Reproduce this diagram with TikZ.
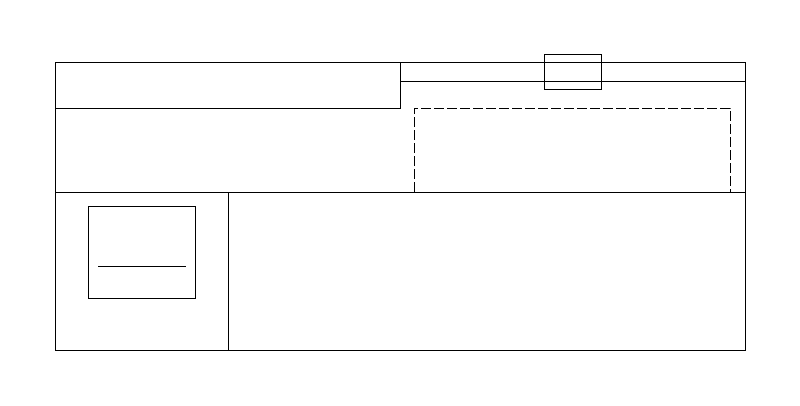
\documentclass[tikz,border=0pt]{standalone}
\begin{document}
\begin{tikzpicture}[x=1pt,y=-1pt,line width=1pt,
  frame/.style={draw=black},
  dashframe/.style={draw=black,dash pattern=on 10pt off 3pt}]
\useasboundingbox (0,0) rectangle (800,405);
% outer frame
\draw[frame] (55,62) rectangle (745,350);
\coordinate (midL) at (55,192);
\coordinate (midR) at (745,192);
\draw[frame] (midL) -- (midR);
% top-left box
\draw[frame] (55,108) -- (400,108) -- (400,62);
% top-right band
\draw[frame] (400,81) -- (745,81);
% small rectangle
\draw[frame] (544,54) rectangle (601,89);
% dashed region
\draw[dashframe] (414,192) -- (414,108) -- (730,108) -- (730,192);
% lower divider
\draw[frame] (228,192) -- (228,350);
% inner box
\draw[frame] (88.5,206) rectangle (195,298);
\draw[frame] (98,266) -- (186,266);
\end{tikzpicture}
\end{document}
